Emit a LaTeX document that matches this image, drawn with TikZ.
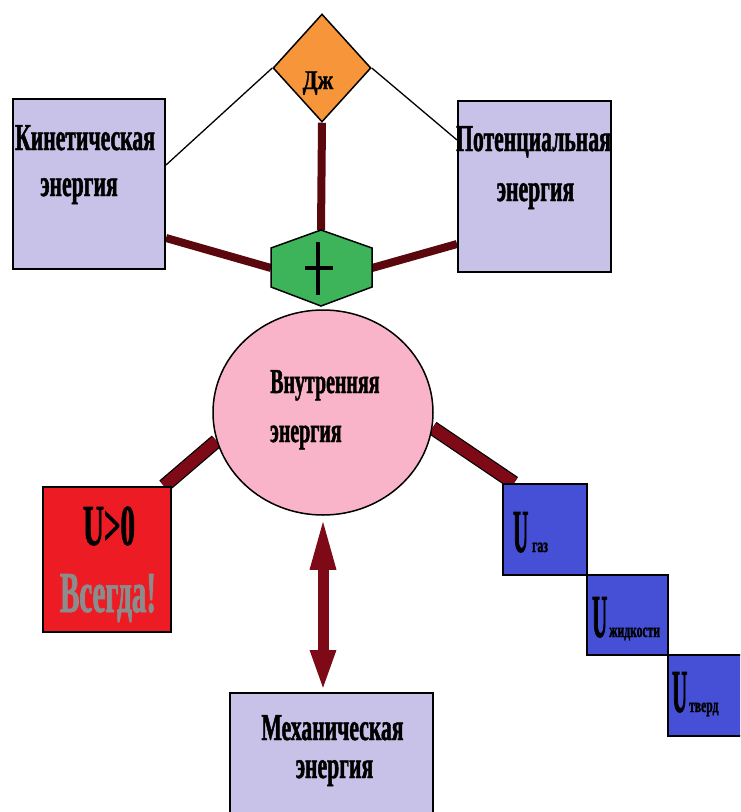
\documentclass[tikz,border=0pt]{standalone}
\usepackage{fontspec}
\usetikzlibrary{shapes.geometric,arrows.meta,backgrounds}
\newfontfamily\fA{Liberation Serif}[FakeStretch=0.57, FakeBold=1.2]
\newfontfamily\fB{Liberation Serif}[FakeStretch=0.5, FakeBold=1.2]
\newfontfamily\fC{Liberation Serif}[FakeStretch=0.34, FakeBold=1.2]
\newfontfamily\fD{Liberation Serif}[FakeStretch=0.58, FakeBold=1.2]
\newfontfamily\fE{Liberation Serif}[FakeStretch=0.8, FakeBold=1.2]
\definecolor{lav}{HTML}{C8C2E8}
\definecolor{orng}{HTML}{F7953B}
\definecolor{grn}{HTML}{3DB35A}
\definecolor{pnk}{HTML}{F9B4C9}
\definecolor{rd}{HTML}{ED1C24}
\definecolor{blu}{HTML}{4650D6}
\definecolor{maroon}{HTML}{7D0A16}
\definecolor{dmaroon}{HTML}{5A080E}
\definecolor{gtext}{HTML}{8C8C8C}
\begin{document}
\begin{tikzpicture}[x=1pt,y=-1pt,
  box/.style={draw=black, line width=2pt, inner sep=0pt},
  lbl/.style={anchor=base, inner sep=0pt, font={\fA\bfseries\fontsize{38}{40}\selectfont}},
  thinlink/.style={draw=black, line width=1.3pt},
  midlink/.style={draw=dmaroon, line width=8pt},
  biglink/.style={draw=black, line width=1.2pt, double=maroon, double distance=12pt},
  ulbl/.style={anchor=base west, inner sep=0pt}]
\useasboundingbox (0,0) rectangle (740,812);
\clip (0,0) rectangle (740,812);

% boxes
\node[box, fill=lav, minimum width=152pt, minimum height=170pt] (kin) at (89,184) {};
\node[box, fill=lav, minimum width=153pt, minimum height=171pt] (pot) at (534.5,186.5) {};
\node[draw=black, line width=1.5pt, fill=orng, diamond, inner sep=0pt,
      minimum width=98pt, minimum height=108pt] (dzh) at (322,68) {};
\node[draw=black, line width=1.5pt, fill=pnk, ellipse, inner sep=0pt,
      minimum width=220pt, minimum height=205pt] (circ) at (323,412.5) {};
\node[box, fill=rd, minimum width=128pt, minimum height=145pt] (ubox) at (107,559.5) {};
\node[box, fill=blu, minimum width=84pt, minimum height=91pt] (ug) at (545,529.5) {};
\node[box, fill=blu, minimum width=81pt, minimum height=80pt] (ul) at (627.5,615) {};
\node[box, fill=blu, minimum width=77pt, minimum height=81pt] (us) at (706.5,695.5) {};
\node[box, fill=lav, minimum width=203pt, minimum height=137pt] (mech) at (331.5,761.5) {};

% hexagon
\coordinate (hexT) at (321,230);
\coordinate (hexL) at (271,268);
\coordinate (hexR) at (372,268);
\draw[line width=1.5pt, fill=grn] (321,230) -- (372,248) -- (372,287) -- (321,306)
  -- (271,287) -- (271,248) -- cycle;
\draw[line width=4pt] (318,242) -- (318,295) (305,268) -- (333,268);

% connectors
\begin{scope}[on background layer]
\draw[thinlink] (dzh.west) -- ([yshift=19pt]kin.east);
\draw[thinlink] (dzh.east) -- ([yshift=46.5pt]pot.west);
\draw[midlink] (dzh.south) -- (hexT);
\draw[midlink] ([yshift=-54pt]kin.east) -- (hexL);
\draw[midlink] ([yshift=-57.5pt]pot.west) -- (hexR);
\draw[biglink] ([xshift=-8pt]ubox.north east) -- (circ.195);
\draw[biglink] (circ.352) -- ([xshift=12pt]ug.north west);
\end{scope}
\draw[maroon, line width=11pt,
  {Triangle[width=23pt,length=54pt]}-{Triangle[width=23pt,length=42pt]}]
  (circ.south) -- (circ.south |- mech.north);

% texts
\node[lbl, font={\fE\bfseries\fontsize{27}{29}\selectfont}] (dzht) at (318,89) {Дж};
\node[lbl] (kin1) at (85,150) {Кинетическая};
\node[lbl] (kin2) at (79,196) {энергия};
\node[lbl] (pot1) at (533.5,151) {Потенциальная};
\node[lbl] (pot2) at (535.5,201) {энергия};
\node[lbl, anchor=base west, font={\fA\bfseries\fontsize{35}{37}\selectfont}] (in1) at (270,393) {Внутренняя};
\node[lbl, anchor=base west, font={\fA\bfseries\fontsize{35}{37}\selectfont}] (in2) at (270,442) {энергия};
\node[lbl] (m1) at (332.5,740) {Механическая};
\node[lbl] (m2) at (334.5,778) {энергия};
\node[lbl, font={\fB\bfseries\fontsize{58}{60}\selectfont}] (u0) at (109,545) {U>0};
\node[lbl, text=gtext, font={\fB\bfseries\fontsize{58}{60}\selectfont}] (vs) at (108,612) {Всегда!};
\node[ulbl] (ugt) at (513,552) {{\fC\bfseries\fontsize{61}{61}\selectfont U}\hspace{4pt}{\fD\bfseries\fontsize{20}{20}\selectfont газ}};
\node[ulbl] (ult) at (592,637) {{\fC\bfseries\fontsize{61}{61}\selectfont U}\hspace{2pt}{\fD\bfseries\fontsize{20}{20}\selectfont жидкости}};
\node[ulbl] (ust) at (672,712) {{\fC\bfseries\fontsize{61}{61}\selectfont U}\hspace{2pt}{\fD\bfseries\fontsize{20}{20}\selectfont тверд}};
\end{tikzpicture}
\end{document}
